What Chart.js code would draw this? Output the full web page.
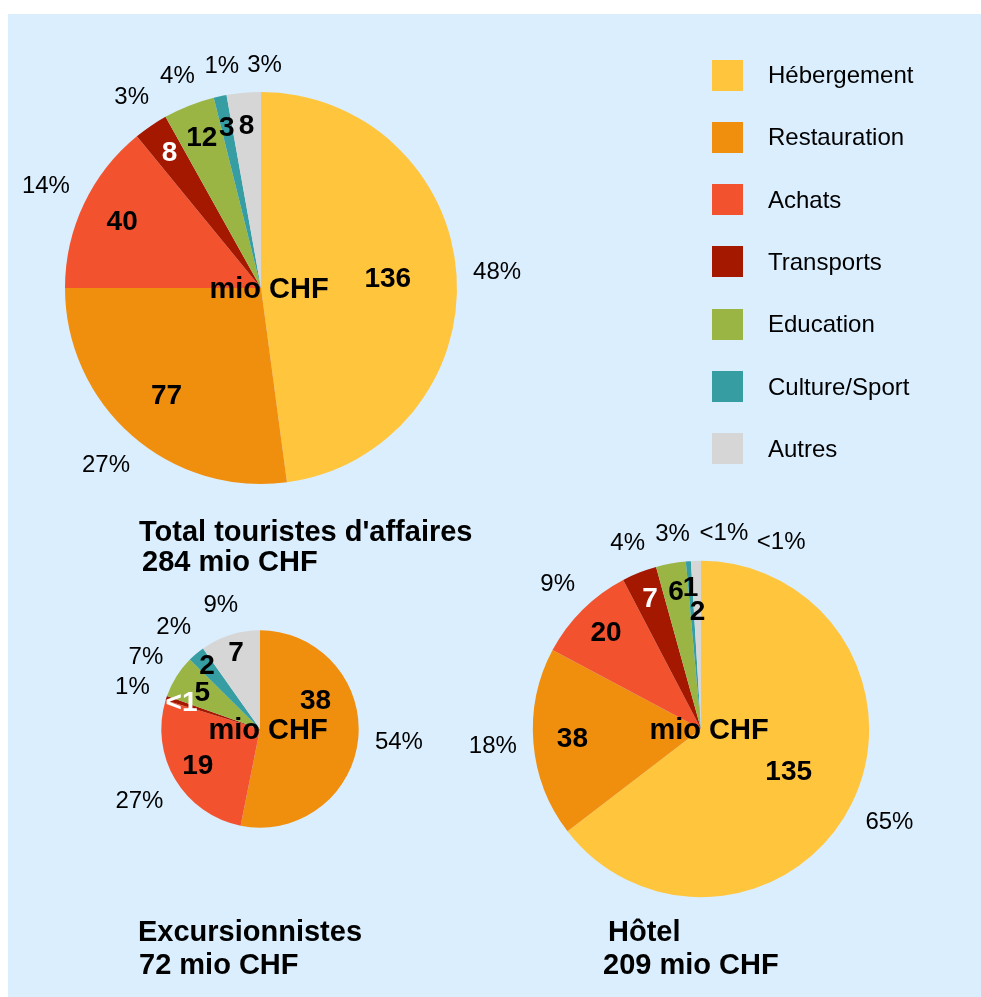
<!DOCTYPE html>
<html lang="fr">
<head>
    <meta charset="UTF-8">
    <title>Dépenses des touristes d'affaires</title>
    <script src="https://cdn.jsdelivr.net/npm/chart.js@4.4.1/dist/chart.umd.min.js"></script>
    <style>
        body {
            margin: 0;
            background: #ffffff;
            font-family: "Liberation Sans", Arial, sans-serif;
            color: #000000;
            overflow: hidden;
        }

        .page {
            position: relative;
            width: 981px;
            height: 997px;
            overflow: hidden;
        }

        .panel {
            position: absolute;
            left: 8px;
            top: 14px;
            right: 0;
            bottom: 0;
            background: #DAEEFD;
        }

        canvas.pie {
            position: absolute;
            left: 0;
            top: 0;
            pointer-events: none;
        }

        .legend-item {
            position: absolute;
            left: 712px;
            height: 31px;
            display: flex;
            align-items: center;
            font-size: 24px;
            white-space: nowrap;
        }

        .legend-box {
            width: 31px;
            height: 31px;
            margin-right: 25px;
        }

        .title {
            position: absolute;
            font-weight: bold;
            font-size: 29px;
            line-height: 29px;
            white-space: nowrap;
        }
    </style>
</head>
<body>
    <div class="page" id="page">
        <div class="panel"></div>
    </div>

    <script>
        const FONT = '"Liberation Sans", Arial, sans-serif';
        const W = 981, H = 997;

        // data
        const categories = ['Hébergement', 'Restauration', 'Achats', 'Transports', 'Education', 'Culture/Sport', 'Autres'];
        const sliceColors = ['#FFC53D', '#F08E0E', '#F2522E', '#A51800', '#9BB545', '#369DA3', '#D6D6D6'];

        const totalValues = [136, 77, 40, 8, 12, 3, 8];
        const totalValueLabels = ['136', '77', '40', '8', '12', '3', '8'];
        const totalPctLabels = ['48%', '27%', '14%', '3%', '4%', '1%', '3%'];

        const excursionValues = [0, 38, 19, 0.5, 5, 2, 7];
        const excursionValueLabels = ['', '38', '19', '<1', '5', '2', '7'];
        const excursionPctLabels = ['', '54%', '27%', '1%', '7%', '2%', '9%'];

        const hotelValues = [135, 38, 20, 7, 6, 1, 2];
        const hotelValueLabels = ['135', '38', '20', '7', '6', '1', '2'];
        const hotelPctLabels = ['65%', '18%', '9%', '4%', '3%', '<1%', '<1%'];

        const pieTotals = [284, 72, 209];
        const pieTitles = [
            ["Total touristes d'affaires", '284 mio CHF'],
            ['Excursionnistes', '72 mio CHF'],
            ['Hôtel', '209 mio CHF']
        ];
        const unitLabel = 'mio CHF';

        // layout (pie centres, title positions)
        const R_MAX = 196;
        const pies = [
            { values: totalValues, valueLabels: totalValueLabels, pctLabels: totalPctLabels, cx: 261, cy: 288,
              titles: [[139, 517], [142, 547]] },
            { values: excursionValues, valueLabels: excursionValueLabels, pctLabels: excursionPctLabels, cx: 260, cy: 729,
              titles: [[138, 917], [139, 950]] },
            { values: hotelValues, valueLabels: hotelValueLabels, pctLabels: hotelPctLabels, cx: 701, cy: 729,
              titles: [[608, 917], [603, 950]] }
        ];

        function makeBox(x, y, w, h) {
            return { x: x, y: y, l: x - w / 2, r: x + w / 2, t: y - h / 2, b: y + h / 2 };
        }

        function hits(box, list, gap) {
            return list.some(b => box.l < b.r + gap && box.r + gap > b.l && box.t < b.b + gap && box.b + gap > b.t);
        }

        function isDark(hex) {
            const n = parseInt(hex.slice(1), 16);
            const r = (n >> 16) & 255, g = (n >> 8) & 255, b = n & 255;
            return (0.299 * r + 0.587 * g + 0.114 * b) < 110;
        }

        // draws "mio CHF", the values inside the slices and the percentages outside
        const sliceLabels = {
            id: 'sliceLabels',
            afterDatasetsDraw(chart, args, opts) {
                const ctx = chart.ctx;
                const arcs = chart.getDatasetMeta(0).data;
                if (!arcs.length) return;
                const { x: cx, y: cy, outerRadius: r } = arcs[0].getProps(['x', 'y', 'outerRadius'], true);
                const colors = chart.data.datasets[0].backgroundColor;

                ctx.save();
                ctx.textAlign = 'center';
                ctx.textBaseline = 'middle';

                ctx.font = 'bold 29px ' + FONT;
                ctx.fillStyle = '#000';
                const ux = cx + 8, uy = cy + 2;
                const unitBox = makeBox(ux, uy, ctx.measureText(unitLabel).width, 24);
                ctx.fillText(unitLabel, ux, uy);

                ctx.font = 'bold 28px ' + FONT;
                const valueBoxes = [];
                arcs.forEach((arc, i) => {
                    const text = opts.valueLabels[i];
                    if (!text) return;
                    const { startAngle, endAngle } = arc.getProps(['startAngle', 'endAngle'], true);
                    const spanDeg = (endAngle - startAngle) * 180 / Math.PI;
                    let rr = r * (0.84 - spanDeg / 900);
                    let a = (startAngle + endAngle) / 2;
                    const w = ctx.measureText(text).width;
                    const at = () => makeBox(cx + Math.cos(a) * rr, cy + Math.sin(a) * rr, w, 26);
                    let box = at();
                    while (hits(box, [unitBox], 4) && a > startAngle) {
                        a -= 2 * Math.PI / 180;
                        box = at();
                    }
                    while (hits(box, valueBoxes, -4) && rr > r * 0.4) {
                        rr -= 2;
                        box = at();
                    }
                    valueBoxes.push(box);
                    ctx.fillStyle = isDark(colors[i]) ? '#fff' : '#000';
                    ctx.fillText(text, box.x, box.y);
                });

                ctx.font = '24px ' + FONT;
                ctx.fillStyle = '#000';
                const pctBoxes = [];
                arcs.forEach((arc, i) => {
                    const text = opts.pctLabels[i];
                    if (!text) return;
                    const { startAngle, endAngle } = arc.getProps(['startAngle', 'endAngle'], true);
                    const w = ctx.measureText(text).width, h = 20;
                    let a = (startAngle + endAngle) / 2;
                    const place = () => {
                        const dx = Math.cos(a), dy = Math.sin(a);
                        const d = r + 16 + Math.abs(dx) * w / 2 + Math.abs(dy) * h / 2;
                        return makeBox(cx + dx * d, cy + dy * d, w, h);
                    };
                    let box = place();
                    let n = 0;
                    while (hits(box, pctBoxes, 8) && n++ < 120) {
                        a += Math.PI / 180;
                        box = place();
                    }
                    pctBoxes.push(box);
                    ctx.fillText(text, box.x, box.y);
                });
                ctx.restore();
            }
        };

        const page = document.getElementById('page');

        pies.forEach((p, k) => {
            const r = R_MAX * Math.sqrt(pieTotals[k] / pieTotals[0]);
            const canvas = document.createElement('canvas');
            canvas.className = 'pie';
            canvas.width = W;
            canvas.height = H;
            page.appendChild(canvas);

            new Chart(canvas, {
                type: 'pie',
                data: {
                    labels: categories,
                    datasets: [{
                        data: p.values,
                        backgroundColor: sliceColors,
                        borderWidth: 0
                    }]
                },
                options: {
                    responsive: false,
                    animation: false,
                    events: [],
                    layout: {
                        padding: {
                            left: p.cx - r,
                            top: p.cy - r,
                            right: W - p.cx - r,
                            bottom: H - p.cy - r
                        }
                    },
                    plugins: {
                        legend: { display: false },
                        tooltip: { enabled: false },
                        sliceLabels: {
                            valueLabels: p.valueLabels,
                            pctLabels: p.pctLabels
                        }
                    }
                },
                plugins: [sliceLabels]
            });

            pieTitles[k].forEach((line, j) => {
                const div = document.createElement('div');
                div.className = 'title';
                div.textContent = line;
                div.style.left = p.titles[j][0] + 'px';
                div.style.top = p.titles[j][1] + 'px';
                page.appendChild(div);
            });
        });

        // legend
        categories.forEach((name, i) => {
            const item = document.createElement('div');
            item.className = 'legend-item';
            item.style.top = (59.5 + i * 62.3) + 'px';
            const box = document.createElement('div');
            box.className = 'legend-box';
            box.style.background = sliceColors[i];
            const label = document.createElement('span');
            label.textContent = name;
            item.appendChild(box);
            item.appendChild(label);
            page.appendChild(item);
        });
    </script>
</body>
</html>
